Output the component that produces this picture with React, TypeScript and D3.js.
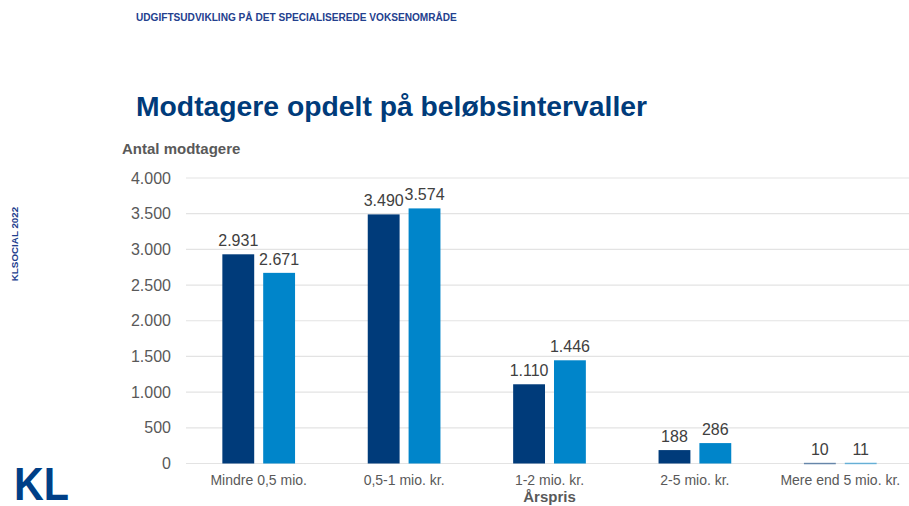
import React, { useEffect, useRef } from "react";
import * as d3 from "d3";

// chart values
const categories = ["Mindre 0,5 mio.", "0,5-1 mio. kr.", "1-2 mio. kr.", "2-5 mio. kr.", "Mere end 5 mio. kr."];
const seriesNames = ["first", "second"];
const firstValues = [2931, 3490, 1110, 188, 10];
const secondValues = [2671, 3574, 1446, 286, 11];
const yTicks = [0, 500, 1000, 1500, 2000, 2500, 3000, 3500, 4000];

const colors = ["#003b7a", "#0085ca"];

const dk = d3.formatLocale({ decimal: ",", thousands: ".", grouping: [3], currency: ["", " kr."] });
const fmt = dk.format(",d");

const W = 909;
const H = 506;

function ChartD3() {
    const ref = useRef<SVGSVGElement>(null);

    useEffect(() => {
        const svg = d3.select(ref.current);
        svg.selectAll("*").remove();

        const font = "'Liberation Sans', Arial, sans-serif";

        // header texts
        svg.append("text")
            .attr("x", 136).attr("y", 21)
            .attr("font-family", font).attr("font-size", 10.1).attr("font-weight", "bold")
            .attr("fill", "#23408e")
            .text("UDGIFTSUDVIKLING PÅ DET SPECIALISEREDE VOKSENOMRÅDE");

        svg.append("text")
            .attr("x", 136).attr("y", 116)
            .attr("font-family", font).attr("font-size", 28.3).attr("font-weight", "bold")
            .attr("fill", "#003b7a")
            .text("Modtagere opdelt på beløbsintervaller");

        svg.append("text")
            .attr("x", 122).attr("y", 154)
            .attr("font-family", font).attr("font-size", 15).attr("font-weight", "bold")
            .attr("fill", "#595959")
            .text("Antal modtagere");

        svg.append("text")
            .attr("transform", "translate(18,244) rotate(-90)")
            .attr("text-anchor", "middle")
            .attr("font-family", font).attr("font-size", 9.8).attr("font-weight", "bold")
            .attr("fill", "#23408e")
            .text("KLSOCIAL 2022");

        // KL logo
        svg.append("text")
            .attr("x", 14).attr("y", 500)
            .attr("font-family", font).attr("font-size", 46).attr("font-weight", "bold")
            .attr("fill", "#003f87")
            .attr("textLength", 55).attr("lengthAdjust", "spacingAndGlyphs")
            .text("KL");

        // scales
        const x0 = d3.scaleBand()
            .domain(categories)
            .range([186, 913])
            .paddingInner(0.5)
            .paddingOuter(0.25);

        const x1 = d3.scaleBand()
            .domain(seriesNames)
            .range([0, x0.bandwidth()])
            .paddingInner(0.22);

        const y = d3.scaleLinear()
            .domain([0, 4000])
            .range([463.5, 178]);

        // gridlines
        svg.append("g")
            .selectAll("line")
            .data(yTicks)
            .enter()
            .append("line")
            .attr("x1", 186).attr("x2", W)
            .attr("y1", d => y(d)).attr("y2", d => y(d))
            .attr("stroke", "#e3e3e3")
            .attr("stroke-width", 1.2);

        // y axis labels
        svg.append("g")
            .selectAll("text")
            .data(yTicks)
            .enter()
            .append("text")
            .attr("x", 171)
            .attr("y", d => y(d) + 5.5)
            .attr("text-anchor", "end")
            .attr("font-family", font).attr("font-size", 16)
            .attr("fill", "#595959")
            .text(d => fmt(d));

        // bars
        const rows = categories.map((c, i) => ({ cat: c, vals: [firstValues[i], secondValues[i]] }));

        const groups = svg.append("g")
            .selectAll("g")
            .data(rows)
            .enter()
            .append("g")
            .attr("transform", d => "translate(" + x0(d.cat) + ",0)");

        groups.selectAll("rect")
            .data(d => d.vals.map((v, j) => ({ key: seriesNames[j], v, j })))
            .enter()
            .append("rect")
            .attr("x", d => x1(d.key)!)
            .attr("y", d => y(d.v))
            .attr("width", x1.bandwidth())
            .attr("height", d => Math.max(y(0) - y(d.v), 1.5))
            .attr("fill", d => colors[d.j])
            .attr("fill-opacity", d => (d.v < 50 ? 0.55 : 1));

        groups.selectAll("text")
            .data(d => d.vals.map((v, j) => ({ key: seriesNames[j], v, j })))
            .enter()
            .append("text")
            .attr("x", d => x1(d.key)! + x1.bandwidth() / 2)
            .attr("y", d => y(d.v) - 8)
            .attr("text-anchor", "middle")
            .attr("font-family", font).attr("font-size", 16)
            .attr("fill", "#404040")
            .text(d => fmt(d.v));

        // category labels
        svg.append("g")
            .selectAll("text")
            .data(categories)
            .enter()
            .append("text")
            .attr("x", d => x0(d)! + x0.bandwidth() / 2)
            .attr("y", 485)
            .attr("text-anchor", "middle")
            .attr("font-family", font).attr("font-size", 14)
            .attr("fill", "#595959")
            .text(d => d);

        svg.append("text")
            .attr("x", (186 + 913) / 2).attr("y", 502)
            .attr("text-anchor", "middle")
            .attr("font-family", font).attr("font-size", 15).attr("font-weight", "bold")
            .attr("fill", "#595959")
            .text("Årspris");
    }, []);

    return <svg ref={ref} width={W} height={H} style={{ display: "block" }} />;
}

export default function App() {
    return (
        <div style={{ position: "fixed", left: 0, top: 0, width: W, height: H, background: "#fff", overflow: "hidden" }}>
            <ChartD3 />
        </div>
    );
}
